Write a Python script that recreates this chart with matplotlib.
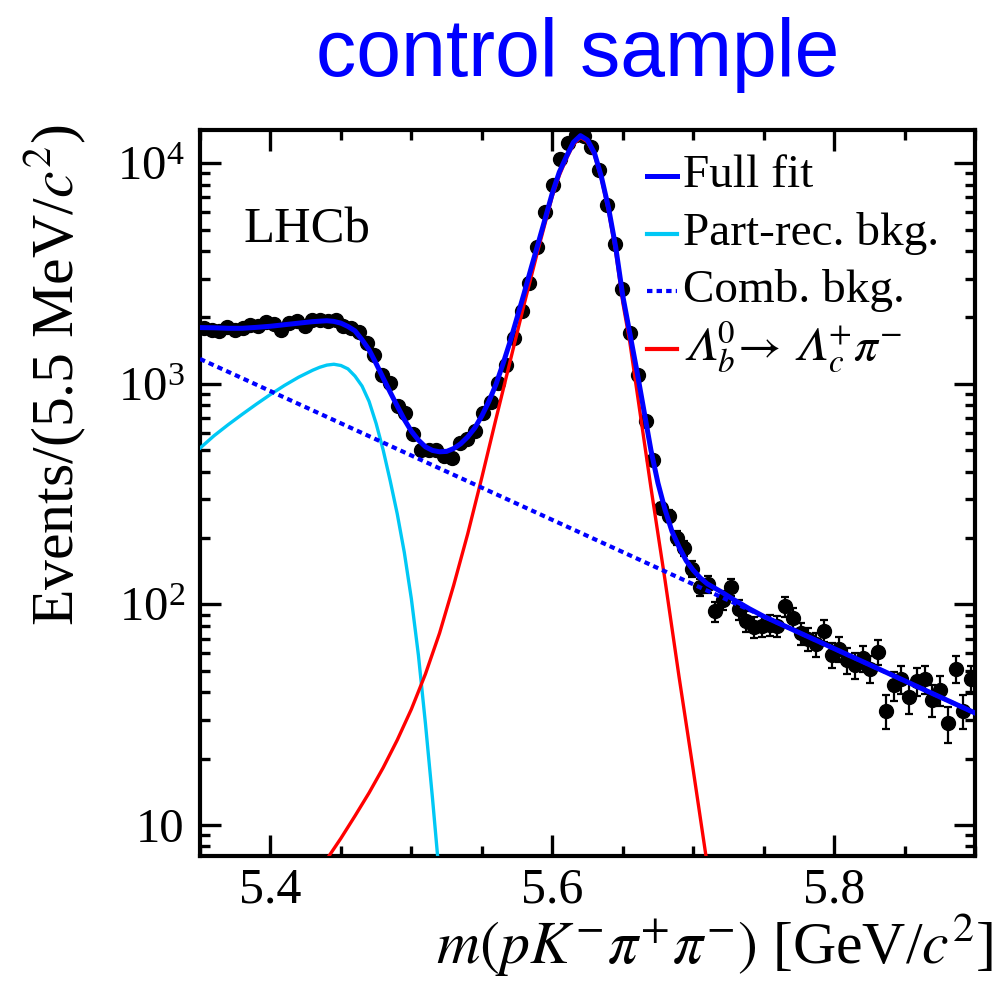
import numpy as np
import matplotlib
matplotlib.use('Agg')
import matplotlib.pyplot as plt
from matplotlib.ticker import FixedLocator, FuncFormatter, LogLocator, NullFormatter, MultipleLocator

plt.rcParams['font.family'] = ['Liberation Serif', 'DejaVu Serif']
plt.rcParams['mathtext.fontset'] = 'stix'

# ---------------- data ----------------
mass_min, mass_max = 5.35, 5.90
bin_width = 0.0055

counts = [1790, 1760, 1740, 1810, 1760, 1790, 1840, 1820, 1900, 1860,
          1760, 1880, 1930, 1830, 1950, 1950, 1920, 1940, 1830, 1800,
          1720, 1530, 1350, 1100, 1010, 790, 740, 590, 500, 500,
          500, 470, 460, 540, 560, 610, 740, 830, 1010, 1220,
          1610, 2130, 2860, 4190, 6040, 8000, 10500, 12400, 13400, 13300,
          11800, 9300, 6500, 4300, 2700, 1700, 1100, 680, 450, 273,
          252, 200, 180, 145, 120, 124, 93, 105, 120, 95,
          84, 79, 80, 81, 80, 98, 87, 74, 70, 66,
          76, 59, 63, 56, 53, 57, 51, 61, 33, 43,
          46, 38, 45, 46, 37, 41, 29, 51, 33, 46]

fit_mass = [5.350, 5.360, 5.370, 5.380, 5.390, 5.400, 5.410, 5.420, 5.430, 5.440,
            5.445, 5.450, 5.455, 5.460, 5.465, 5.470, 5.475, 5.480, 5.485, 5.490,
            5.495, 5.500, 5.505, 5.510, 5.515, 5.520, 5.525, 5.530, 5.535, 5.540,
            5.545, 5.550, 5.555, 5.560, 5.565, 5.570, 5.575, 5.580, 5.585, 5.590,
            5.595, 5.600, 5.605, 5.610, 5.615, 5.620, 5.625, 5.630, 5.635, 5.640,
            5.645, 5.650, 5.655, 5.660, 5.665, 5.670, 5.675, 5.680, 5.685, 5.690,
            5.695, 5.700, 5.705, 5.710, 5.720, 5.730, 5.740, 5.750, 5.800, 5.850,
            5.900]
fit_full = [1799, 1795, 1786, 1786, 1803, 1824, 1854, 1884, 1914, 1932,
            1919, 1884, 1820, 1738, 1585, 1426, 1236, 1062, 916, 793,
            689, 610, 556, 518, 499, 492, 494, 509, 535, 575,
            631, 716, 832, 993, 1230, 1549, 1995, 2570, 3350, 4335,
            5623, 7311, 9120, 10715, 12445, 13335, 12735, 11092, 8610, 6237,
            4169, 2512, 1698, 1148, 759, 501, 355, 269, 214, 182,
            158, 143, 132, 124, 114, 104, 95.5, 88.3, 63.1, 45.1,
            32.2]

part_mass = [5.350, 5.360, 5.370, 5.380, 5.390, 5.400, 5.410, 5.420, 5.430, 5.435,
             5.440, 5.445, 5.450, 5.455, 5.460, 5.465, 5.470, 5.475, 5.480, 5.485,
             5.490, 5.495, 5.500, 5.505, 5.510, 5.515, 5.520]
part_rec = [511, 582, 653, 728, 809, 895, 984, 1072, 1153, 1189,
            1216, 1227, 1211, 1169, 1084, 977, 832, 661, 501, 363,
            257, 172, 106, 58.9, 28.8, 13.2, 5.75]

sig_mass = [5.440, 5.450, 5.460, 5.470, 5.480, 5.490, 5.500, 5.510, 5.520, 5.530,
            5.540, 5.550, 5.560, 5.570, 5.580, 5.590, 5.600, 5.605, 5.610, 5.615,
            5.620, 5.625, 5.630, 5.635, 5.640, 5.645, 5.650, 5.655, 5.660, 5.665,
            5.670, 5.675, 5.680, 5.690, 5.700, 5.710]
sig_vals = [7.0, 8.71, 11.0, 14.0, 18.2, 24.3, 33.5, 48.4, 74.1, 122,
            209, 376, 692, 1259, 2291, 4074, 7079, 8810, 10471, 12162,
            13092, 12503, 10864, 8414, 6026, 3981, 2344, 1549, 933, 562,
            339, 209, 129, 46.8, 17.8, 6.6]

comb_mass = [5.35, 5.90]
comb_vals = [1297, 32.2]

legend_labels = ['Full fit', 'Part-rec. bkg.', 'Comb. bkg.',
                 r'$\mathrm{𝛬}^{0}_{b}\!\rightarrow\,\mathrm{𝛬}^{+}_{c}\pi^{-}$']

# ---------------- figure ----------------
fig = plt.figure(figsize=(10.03, 9.84), dpi=100)
ax = fig.add_axes([0.1994, 0.1301, 0.7727, 0.7378])
ax.set_yscale('log')

centers = mass_min + bin_width * (np.arange(len(counts)) + 0.5)
cnt = np.array(counts, dtype=float)
ax.errorbar(centers, cnt, yerr=np.sqrt(cnt), fmt='o', color='black', ms=10,
            elinewidth=1.6, capsize=2.6, capthick=1.6, zorder=2)

c_blue = '#0000ff'
c_red = '#ff0000'
c_cyan = '#00c8f5'
dotted = (0, (1.3, 1.0))

ax.plot(part_mass, part_rec, color=c_cyan, lw=2.4, zorder=3)
ax.plot(sig_mass, sig_vals, color=c_red, lw=2.4, zorder=3)
ax.plot(comb_mass, comb_vals, color=c_blue, lw=3.0, linestyle=dotted, zorder=3)
ax.plot(fit_mass, fit_full, color=c_blue, lw=3.6, zorder=4)

ax.set_xlim(mass_min, mass_max)
ax.set_ylim(7.24, 14150)

ax.xaxis.set_major_locator(FixedLocator([5.4, 5.6, 5.8]))
ax.xaxis.set_minor_locator(MultipleLocator(0.05))
ax.xaxis.set_major_formatter(FuncFormatter(lambda v, p: f'{v:.1f}'))
ax.yaxis.set_major_locator(LogLocator(base=10, numticks=10))
ax.yaxis.set_minor_locator(LogLocator(base=10, subs=np.arange(2, 10), numticks=20))
ax.yaxis.set_minor_formatter(NullFormatter())


def yfmt(v, p):
    e = int(round(np.log10(v)))
    if e == 1:
        return '10'
    return r'$\mathregular{10^{%d}}$' % e


ax.yaxis.set_major_formatter(FuncFormatter(yfmt))

ax.tick_params(which='both', direction='in', top=True, right=True, width=2.4)
ax.tick_params(which='major', length=15)
ax.tick_params(which='minor', length=7.5)
ax.tick_params(axis='x', which='major', labelsize=36, pad=8)
ax.tick_params(axis='y', which='major', labelsize=35, pad=11)
for s in ax.spines.values():
    s.set_linewidth(3)

# labels
fig.text(993 / 1003, 1 - 963 / 984, r'$m(pK^{-}\pi^{+}\pi^{-})$ [GeV/$c^{2}$]',
         ha='right', va='baseline', fontsize=43)
fig.text(54 / 1003, 1 - 125 / 984, r'Events/(5.5 MeV/$c^{2}$)', rotation=90,
         ha='center', va='top', fontsize=43)
fig.text(578 / 1003, 1 - 76 / 984, 'control sample', ha='center', va='baseline',
         fontsize=58, color=c_blue, family=['Liberation Sans', 'DejaVu Sans'])

ax.text(0.0555, 0.8457, 'LHCb', transform=ax.transAxes, fontsize=36.5, va='baseline')

# legend
styles = [dict(color=c_blue, lw=3.6), dict(color=c_cyan, lw=3.0),
          dict(color=c_blue, lw=3.0, linestyle=dotted), dict(color=c_red, lw=3.0)]
baselines_px = [187, 245, 302, 360]
for lab, st, b in zip(legend_labels, styles, baselines_px):
    yb = (856 - b) / 726
    yh = (856 - (b - 10.5)) / 726
    ax.plot([0.5768, 0.6155], [yh, yh], transform=ax.transAxes, clip_on=False, zorder=5, **st)
    ax.text(0.6232, yb, lab, transform=ax.transAxes, fontsize=34, va='baseline')

fig.savefig('out.png', dpi=100)
